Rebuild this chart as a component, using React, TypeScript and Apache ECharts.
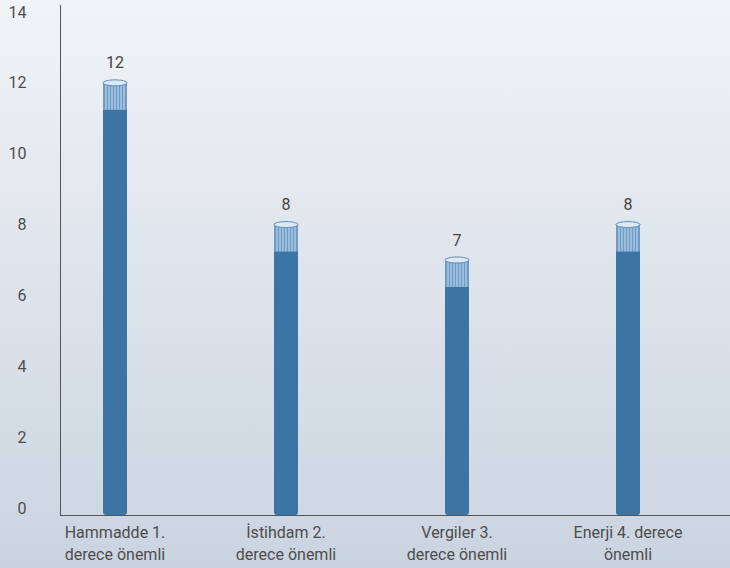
import React, { useEffect, useRef } from "react";
import * as echarts from "echarts";

const categories = ["Hammadde 1.\nderece önemli", "İstihdam 2.\nderece önemli", "Vergiler 3.\nderece önemli", "Enerji 4. derece\nönemli"];
const values = [12, 8, 7, 8];

const FONT = "'Liberation Sans Narrow', 'Roboto', 'Liberation Sans', sans-serif";

export default function App() {
  const ref = useRef<HTMLDivElement>(null);
  useEffect(() => {
    const chart = echarts.init(ref.current!, null, { renderer: "svg" });
    const option: any = {
      animation: false,
      backgroundColor: new echarts.graphic.LinearGradient(0, 0, 0, 1, [
        { offset: 0, color: "#f1f3f7" },
        { offset: 1, color: "#cad4e0" },
      ]),
      grid: { left: 29.5, right: 16.5, top: 12, bottom: 60 },
      xAxis: {
        type: "category",
        data: categories,
        offset: 7,
        axisLine: { show: false },
        axisTick: { show: false },
        axisLabel: { color: "#4d4d4d", fontSize: 16, fontFamily: FONT, lineHeight: 22, margin: 6, interval: 0 },
      },
      yAxis: {
        type: "value",
        min: 0,
        max: 14,
        interval: 2,
        axisLine: { show: false },
        axisTick: { show: false },
        splitLine: { show: false },
        axisLabel: { color: "#4d4d4d", fontSize: 16, fontFamily: FONT, margin: 3 },
      },
      graphic: [
        { type: "line", shape: { x1: 60.5, y1: 5, x2: 60.5, y2: 515 }, style: { stroke: "#555", lineWidth: 1 }, z: 10 },
        { type: "line", shape: { x1: 60, y1: 515.5, x2: 730, y2: 515.5 }, style: { stroke: "#555", lineWidth: 1 }, z: 10 },
      ],
      series: [
        {
          type: "custom",
          data: values.map((v, i) => [i, v]),
          renderItem: (params: any, api: any) => {
            const idx = api.value(0);
            const val = api.value(1);
            const top = api.coord([idx, val]);
            const base = api.coord([idx, 0]);
            const cx = top[0];
            const yTop = top[1];
            const yBot = base[1] + 7;
            const w = 24;
            const x0 = cx - w / 2;
            const capH = 27;
            const children: any[] = [];
            children.push({
              type: "rect",
              shape: { x: x0, y: yTop, width: w, height: yBot - yTop, r: [0, 0, 3, 3] },
              style: { fill: "#3c74a4" },
            });
            children.push({
              type: "rect",
              shape: { x: x0, y: yTop, width: w, height: capH },
              style: { fill: "#6f9cc7" },
            });
            for (let k = 1; k < 8; k++) {
              const sx = x0 + k * 3;
              children.push({
                type: "line",
                shape: { x1: sx, y1: yTop + 2, x2: sx, y2: yTop + capH },
                style: { stroke: "#c9dcee", lineWidth: 1 },
              });
            }
            children.push({
              type: "ellipse",
              shape: { cx: cx, cy: yTop, rx: w / 2, ry: 3 },
              style: { fill: "#dce8f3", stroke: "#5d8dbb", lineWidth: 1 },
            });
            children.push({
              type: "text",
              style: {
                text: String(val),
                x: cx,
                y: yTop - 20,
                align: "center",
                verticalAlign: "middle",
                fill: "#444",
                fontSize: 16,
                fontFamily: FONT,
              },
            });
            return { type: "group", children };
          },
        },
      ],
    };
    chart.setOption(option);
    return () => chart.dispose();
  }, []);
  return <div ref={ref} style={{ position: "absolute", left: 0, top: 0, width: 730, height: 568 }} />;
}
